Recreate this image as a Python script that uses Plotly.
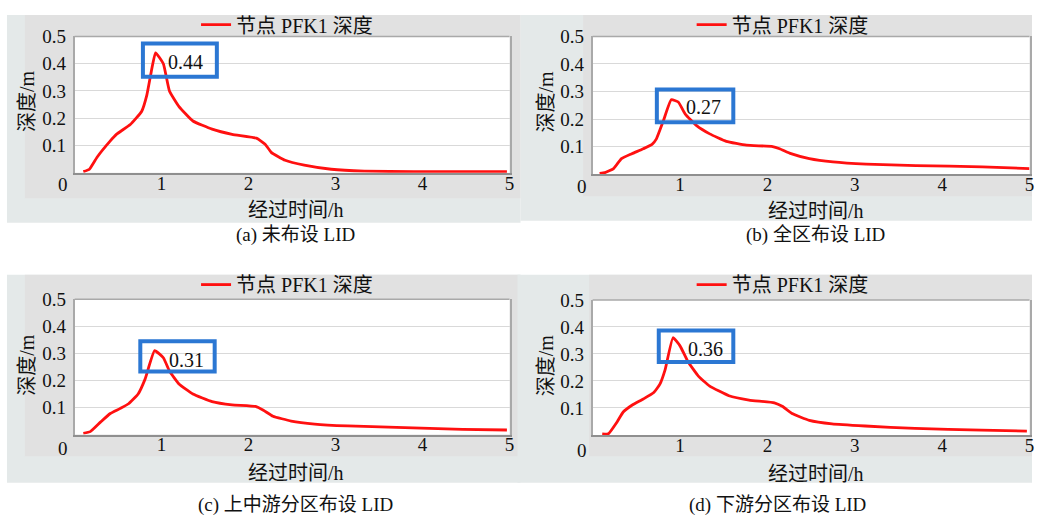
import plotly.graph_objects as go

W, H = 1037, 516

# Depth at node PFK1 (m) versus elapsed time (h) for the four LID layouts
t_a = [0.10, 0.17, 0.26, 0.41, 0.48, 0.64, 0.77, 0.83, 0.88, 0.93, 1.02, 1.09, 1.20, 1.36, 1.58, 1.81, 2.09, 2.19, 2.26, 2.42, 2.64, 2.95, 3.33, 3.90, 4.97]
d_a = [0.004, 0.013, 0.058, 0.117, 0.141, 0.177, 0.225, 0.285, 0.369, 0.44, 0.40, 0.30, 0.243, 0.19, 0.16, 0.141, 0.127, 0.105, 0.075, 0.046, 0.028, 0.013, 0.006, 0.004, 0.004]

t_b = [0.08, 0.14, 0.24, 0.33, 0.45, 0.58, 0.68, 0.73, 0.81, 0.90, 0.98, 1.06, 1.19, 1.34, 1.53, 1.76, 2.06, 2.14, 2.27, 2.48, 2.75, 3.13, 3.70, 4.46, 5.00]
d_b = [0.002, 0.005, 0.02, 0.056, 0.074, 0.092, 0.108, 0.128, 0.194, 0.27, 0.262, 0.218, 0.176, 0.146, 0.119, 0.105, 0.10, 0.092, 0.074, 0.056, 0.044, 0.036, 0.031, 0.026, 0.02]

t_c = [0.10, 0.18, 0.30, 0.41, 0.52, 0.62, 0.73, 0.81, 0.92, 1.02, 1.09, 1.20, 1.36, 1.58, 1.81, 2.08, 2.17, 2.28, 2.49, 2.76, 3.14, 3.70, 4.46, 4.97]
d_c = [0.005, 0.011, 0.047, 0.078, 0.096, 0.114, 0.15, 0.205, 0.31, 0.284, 0.235, 0.187, 0.15, 0.122, 0.11, 0.104, 0.09, 0.068, 0.05, 0.039, 0.032, 0.027, 0.019, 0.017]

t_d = [0.11, 0.18, 0.28, 0.35, 0.45, 0.58, 0.70, 0.77, 0.83, 0.92, 1.00, 1.09, 1.21, 1.34, 1.56, 1.79, 2.08, 2.17, 2.29, 2.48, 2.74, 3.12, 3.69, 4.45, 4.97]
d_d = [0.004, 0.004, 0.048, 0.085, 0.11, 0.133, 0.157, 0.188, 0.242, 0.36, 0.33, 0.272, 0.218, 0.181, 0.145, 0.129, 0.119, 0.106, 0.078, 0.054, 0.041, 0.033, 0.024, 0.018, 0.014]

peaks = [0.44, 0.27, 0.31, 0.36]
captions = ["(a) 未布设 LID", "(b) 全区布设 LID", "(c) 上中游分区布设 LID", "(d) 下游分区布设 LID"]
series_name = "节点 PFK1 深度"
x_title = "经过时间/h"
y_title = "深度/m"
x_ticks = [1, 2, 3, 4, 5]
y_ticks = [0.1, 0.2, 0.3, 0.4, 0.5]

series = [(t_a, d_a), (t_b, d_b), (t_c, d_c), (t_d, d_d)]

FONT = "Liberation Serif, Times New Roman, Noto Sans CJK SC, serif"
RED = "#ff1010"
BLUE = "#2b77d3"
OUTER = "#e4e9e9"
INNER = "#e1e1e1"
INK = "#111111"


def px(x):
    return x / W


def py(y):
    return 1 - y / H


# panel geometry in pixels
panels = [
    dict(plot=(75, 512, 27, 166), outer=(7, 523, 5, 217), inner=(25, 523, 5, 192),
         legend=(197, 15), ytitle=(27, 93), xtitle=(297, 204), cap=(297, 229), zero=(63, 178),
         box=(0.785, 1.635, 0.352, 0.474), label=(1.28, 0.406)),
    dict(plot=(595.5, 1034.5, 27, 167.3), outer=(523, 1037, 5, 215), inner=(586, 1037, 5, 190),
         legend=(695, 15), ytitle=(549, 93), xtitle=(820, 205), cap=(819, 229), zero=(585, 180),
         box=(0.735, 1.61, 0.188, 0.307), label=(1.27, 0.242)),
    dict(plot=(75, 512, 295, 433), outer=(7, 523, 270, 482), inner=(25, 523, 270, 455),
         legend=(197, 280), ytitle=(27, 362), xtitle=(297, 472), cap=(297, 505), zero=(63, 447),
         box=(0.755, 1.61, 0.233, 0.345), label=(1.29, 0.276)),
    dict(plot=(595.5, 1034.5, 295.7, 433.3), outer=(520, 1037, 270, 482), inner=(592, 1037, 270, 455),
         legend=(695, 280), ytitle=(549, 362), xtitle=(820, 473), cap=(781, 505), zero=(585, 449),
         box=(0.757, 1.61, 0.27, 0.387), label=(1.29, 0.318)),
]

fig = go.Figure()
shapes = []
annotations = []
layout = {}

for i, ((t, d), p) in enumerate(zip(series, panels)):
    n = i + 1
    sfx = "" if n == 1 else str(n)
    xa, ya = "x" + sfx, "y" + sfx
    leg = "legend" + sfx

    fig.add_trace(go.Scatter(
        x=t, y=d, mode="lines", name=series_name,
        line=dict(color=RED, width=2.8, shape="spline", smoothing=0.4),
        xaxis=xa, yaxis=ya, legend=leg, showlegend=True,
    ))

    x0, x1, y0, y1 = p["plot"]
    layout["xaxis" + sfx] = dict(
        domain=[px(x0), px(x1)], range=[0, 5], anchor=ya,
        tickvals=x_ticks, ticktext=[str(v) for v in x_ticks],
        showgrid=False, zeroline=False, ticks="",
        showline=True, linecolor="#8f8f8f", linewidth=2,
        ticklabelstandoff=-8,
        tickfont=dict(family=FONT, size=19, color=INK),
    )
    layout["yaxis" + sfx] = dict(
        domain=[py(y1), py(y0)], range=[0, 0.5], anchor=xa,
        tickvals=y_ticks, ticktext=[f"{v:.1f}" for v in y_ticks],
        showgrid=True, gridcolor="#d9d9d9", gridwidth=1, zeroline=False, ticks="",
        showline=True, linecolor="#a9a9a9", linewidth=1.5, mirror=True,
        ticklabelstandoff=3,
        tickfont=dict(family=FONT, size=19, color=INK),
    )
    lx, ly = p["legend"]
    layout[leg] = dict(
        x=px(lx), y=py(ly), xanchor="left", yanchor="middle",
        bgcolor="rgba(0,0,0,0)", borderwidth=0,
        font=dict(family=FONT, size=20, color=INK),
        itemwidth=30,
    )

    # panel backgrounds and white plotting area
    ox0, ox1, oy0, oy1 = p["outer"]
    shapes.append(dict(type="rect", xref="paper", yref="paper", layer="below",
                       x0=px(ox0), x1=px(ox1), y0=py(oy1), y1=py(oy0),
                       fillcolor=OUTER, line=dict(width=0)))
    ix0, ix1, iy0, iy1 = p["inner"]
    shapes.append(dict(type="rect", xref="paper", yref="paper", layer="below",
                       x0=px(ix0), x1=px(ix1), y0=py(iy1), y1=py(iy0),
                       fillcolor=INNER, line=dict(width=0)))
    shapes.append(dict(type="rect", xref=xa + " domain", yref=ya + " domain", layer="below",
                       x0=0, x1=1, y0=0, y1=1, fillcolor="white", line=dict(width=0)))
    # top border of the plotting area
    shapes.append(dict(type="line", xref=xa + " domain", yref=ya + " domain", layer="above",
                       x0=0, x1=1, y0=1, y1=1, line=dict(color="#a9a9a9", width=1.5)))

    # peak callout
    bx0, bx1, by0, by1 = p["box"]
    shapes.append(dict(type="rect", xref=xa, yref=ya, layer="above",
                       x0=bx0, x1=bx1, y0=by0, y1=by1,
                       fillcolor="rgba(0,0,0,0)", line=dict(color=BLUE, width=4)))
    lxd, lyd = p["label"]
    annotations.append(dict(xref=xa, yref=ya, x=lxd, y=lyd, text=f"{peaks[i]:.2f}",
                            showarrow=False, xanchor="center", yanchor="middle",
                            font=dict(family=FONT, size=20, color=INK)))

    # titles, origin label and caption
    tx, ty = p["ytitle"]
    annotations.append(dict(xref="paper", yref="paper", x=px(tx), y=py(ty), text=y_title,
                            textangle=-90, showarrow=False, xanchor="center", yanchor="middle",
                            font=dict(family=FONT, size=20, color=INK)))
    tx, ty = p["xtitle"]
    annotations.append(dict(xref="paper", yref="paper", x=px(tx), y=py(ty), text=x_title,
                            showarrow=False, xanchor="center", yanchor="middle",
                            font=dict(family=FONT, size=20, color=INK)))
    zx, zy = p["zero"]
    annotations.append(dict(xref="paper", yref="paper", x=px(zx), y=py(zy), text="0",
                            showarrow=False, xanchor="center", yanchor="middle",
                            font=dict(family=FONT, size=19, color=INK)))
    cx, cy = p["cap"]
    annotations.append(dict(xref="paper", yref="paper", x=px(cx), y=py(cy), text=captions[i],
                            showarrow=False, xanchor="center", yanchor="middle",
                            font=dict(family=FONT, size=19, color=INK)))

fig.update_layout(
    width=W, height=H,
    margin=dict(l=0, r=0, t=0, b=0),
    paper_bgcolor="white",
    plot_bgcolor="rgba(0,0,0,0)",
    shapes=shapes,
    annotations=annotations,
    font=dict(family=FONT, size=19, color=INK),
    **layout,
)

fig.write_html("out.html")
